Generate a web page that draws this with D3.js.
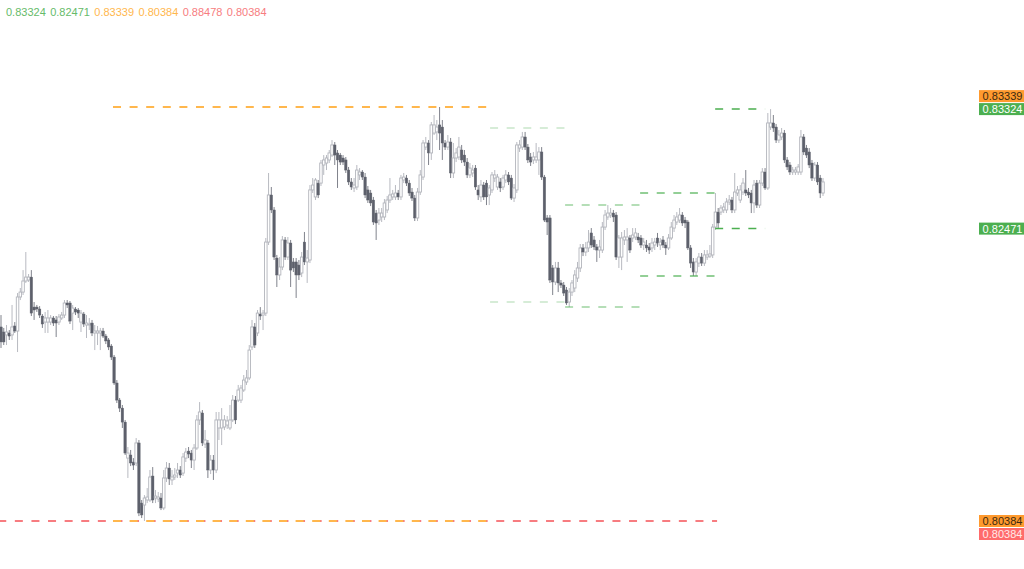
<!DOCTYPE html>
<html>
<head>
<meta charset="utf-8">
<script src="https://cdn.jsdelivr.net/npm/d3@7"></script>
<style>
html,body{margin:0;padding:0;background:#ffffff;overflow:hidden}
svg{display:block}
</style>
</head>
<body>
<svg id="chart" width="1024" height="569"></svg>
<script>
// ---- DATA ----
const opens = [
0.81769,0.81733,0.81712,0.81726,0.81712,0.81776,0.81740,0.81983,0.82018,0.82097,
0.82104,0.82125,0.81911,0.81911,0.81897,0.81847,0.81804,0.81804,0.81804,0.81833,
0.81819,0.81804,0.81833,0.81854,0.81940,0.81940,0.81868,0.81897,0.81890,0.81804,
0.81861,0.81783,0.81783,0.81797,0.81726,0.81726,0.81726,0.81740,0.81704,0.81676,
0.81633,0.81554,0.81369,0.81247,0.81190,0.81090,0.80833,0.80855,0.80805,0.80798,
0.80941,0.80512,0.80498,0.80534,0.80534,0.80705,0.80548,0.80541,
0.80548,0.80477,0.80691,0.80762,0.80677,0.80698,0.80726,0.80748,0.80726,0.80833,
0.80883,0.80869,0.80819,0.80905,0.81105,0.81155,0.80933,0.80941,0.80748,0.80819,
0.80748,0.81048,0.81048,0.81055,0.81069,
0.81048,0.81105,0.81247,0.81247,0.81247,0.81319,0.81376,0.81405,0.81626,0.81769,
0.81726,0.81861,0.81854,0.81868,0.82375,0.82711,0.82604,0.82261,0.82140,0.82197,
0.82390,0.82268,0.82368,0.82233,0.82233,0.82211,0.82154,0.82375,0.82233,0.82247,
0.82747,0.82697,0.82796,0.82796,0.82925,0.82939,0.82961,0.82996,0.83068,0.83011,
0.82996,0.82975,0.82961,0.82889,0.82804,0.82761,0.82768,0.82854,0.82875,0.82839,
0.82747,0.82725,0.82675,0.82582,0.82532,0.82554,0.82554,0.82604,0.82675,0.82697,
0.82697,0.82725,0.82697,0.82818,0.82832,0.82796,0.82732,0.82689,0.82547,0.82732,
0.82839,0.83053,0.83082,0.83011,0.83153,0.83161,0.83211,0.83196,0.83082,0.83053,
0.83089,0.82868,0.82975,0.82982,0.83032,0.82996,0.82946,0.82854,0.82868,0.82903,
0.82747,0.82697,0.82782,0.82796,0.82711,0.82747,0.82832,0.82768,0.82804,0.82768,
0.82818,0.82854,0.82832,0.82689,0.82747,0.83046,0.83053,0.83125,0.83053,0.82982,
0.82961,0.82961,0.82961,0.83018,0.82839,0.82547,0.82547,0.82190,0.82090,0.82190,
0.82083,0.82068,0.82033,0.81947,0.82018,0.82047,0.82118,0.82190,0.82333,0.82304,
0.82333,0.82440,0.82390,0.82340,0.82318,0.82318,0.82482,0.82554,0.82568,0.82582,
0.82568,0.82268,0.82268,0.82390,0.82390,0.82404,0.82404,0.82411,0.82411,0.82404,
0.82354,0.82354,0.82340,0.82333,0.82354,0.82404,0.82354,0.82390,0.82354,0.82333,
0.82404,0.82475,0.82518,0.82532,0.82568,0.82532,0.82518,0.82333,0.82233,0.82161,
0.82225,0.82268,0.82225,0.82268,0.82275,0.82283,0.82482,0.82589,0.82589,0.82604,
0.82604,0.82661,0.82675,0.82604,0.82725,0.82675,0.82732,0.82747,0.82732,0.82725,
0.82654,0.82796,0.82639,0.82796,0.82875,0.82761,0.83196,0.83225,0.83196,0.83103,
0.83125,0.83153,0.82961,0.82925,0.82875,0.82875,0.82875,0.82875,0.83125,0.83046,
0.83018,0.82939,0.82832,0.82925,0.82832,0.82725
];
const highs = [
0.81854,0.81762,0.81783,0.81747,0.81926,0.81804,0.82011,0.82047,0.82175,0.82304,
0.82147,0.82175,0.81947,0.81926,0.81918,0.81861,0.81876,0.81890,0.81854,0.81847,
0.81847,0.81861,0.81876,0.81961,0.81961,0.81954,0.81926,0.81911,0.81904,0.81890,
0.81876,0.81854,0.81833,0.81819,0.81783,0.81776,0.81762,0.81762,0.81719,0.81690,
0.81647,0.81569,0.81390,0.81262,0.81212,0.81105,0.80912,0.80891,0.80833,0.80976,
0.80962,0.80534,0.80569,0.80619,0.80748,0.80769,0.80605,0.80591,
0.80584,0.80748,0.80805,0.80798,0.80748,0.80762,0.80798,0.80776,0.80869,0.80905,
0.80912,0.80891,0.80933,0.81140,0.81233,0.81176,0.81033,0.80962,0.80855,0.80855,
0.81162,0.81162,0.81190,0.81140,0.81133,
0.81212,0.81283,0.81276,0.81355,0.81355,0.81426,0.81462,0.81640,0.81819,0.81797,
0.81890,0.81911,0.81890,0.82404,0.82868,0.82768,0.82625,0.82283,0.82268,0.82418,
0.82411,0.82411,0.82390,0.82261,0.82261,0.82247,0.82304,0.82447,0.82318,0.82782,
0.82832,0.82832,0.82818,0.82961,0.82996,0.82996,0.83032,0.83103,0.83089,0.83032,
0.83011,0.82996,0.82982,0.82911,0.82832,0.82832,0.82925,0.82903,0.82889,0.82868,
0.82775,0.82747,0.82697,0.82604,0.82618,0.82618,0.82682,0.82704,0.82832,0.82747,
0.82782,0.82747,0.82854,0.82868,0.82854,0.82818,0.82761,0.82711,0.82761,0.82889,
0.83103,0.83125,0.83103,0.83232,0.83282,0.83246,0.83339,0.83246,0.83103,0.83139,
0.83118,0.83082,0.83046,0.83125,0.83068,0.83032,0.82975,0.82939,0.82925,0.82925,
0.82782,0.82818,0.82804,0.82818,0.82782,0.82875,0.82889,0.82861,0.82832,0.82854,
0.82889,0.82875,0.82854,0.82789,0.83089,0.83103,0.83161,0.83161,0.83075,0.83011,
0.83018,0.83082,0.83053,0.83053,0.82854,0.82568,0.82568,0.82211,0.82233,0.82233,
0.82104,0.82090,0.82054,0.82047,0.82104,0.82175,0.82233,0.82361,0.82361,0.82375,
0.82461,0.82475,0.82418,0.82361,0.82390,0.82518,0.82604,0.82639,0.82618,0.82604,
0.82589,0.82425,0.82447,0.82461,0.82475,0.82425,0.82475,0.82475,0.82440,0.82425,
0.82404,0.82390,0.82368,0.82404,0.82404,0.82440,0.82404,0.82418,0.82375,0.82432,
0.82518,0.82568,0.82589,0.82618,0.82589,0.82554,0.82532,0.82354,0.82261,0.82261,
0.82297,0.82297,0.82318,0.82318,0.82354,0.82504,0.82725,0.82618,0.82639,0.82654,
0.82689,0.82711,0.82697,0.82868,0.82775,0.82782,0.82832,0.82889,0.82761,0.82747,
0.82818,0.82818,0.82818,0.82903,0.82903,0.83296,0.83324,0.83282,0.83218,0.83175,
0.83189,0.83175,0.82982,0.82946,0.82911,0.82911,0.82932,0.83175,0.83146,0.83068,
0.83046,0.82961,0.82946,0.82946,0.82854,0.82832
];
const lows = [
0.81619,0.81640,0.81640,0.81676,0.81676,0.81726,0.81590,0.81961,0.81997,0.82083,
0.82090,0.81847,0.81819,0.81876,0.81833,0.81762,0.81726,0.81726,0.81783,0.81776,
0.81697,0.81783,0.81819,0.81833,0.81904,0.81790,0.81747,0.81854,0.81833,0.81733,
0.81769,0.81690,0.81747,0.81704,0.81604,0.81640,0.81604,0.81690,0.81647,0.81604,
0.81533,0.81355,0.81226,0.81162,0.81048,0.80855,0.80691,0.80776,0.80748,0.80776,
0.80419,0.80405,0.80384,0.80512,0.80519,0.80512,0.80512,0.80519,
0.80462,0.80462,0.80662,0.80641,0.80641,0.80677,0.80691,0.80691,0.80705,0.80805,
0.80833,0.80762,0.80748,0.80891,0.81069,0.80919,0.80905,0.80691,0.80719,0.80677,
0.80726,0.80962,0.80926,0.81033,0.81041,
0.81033,0.81090,0.81076,0.81233,0.81226,0.81305,0.81355,0.81390,0.81604,0.81619,
0.81704,0.81819,0.81747,0.81847,0.82354,0.82582,0.82247,0.82054,0.82104,0.82175,
0.82247,0.82247,0.82054,0.82161,0.81976,0.82104,0.82125,0.82211,0.82083,0.82225,
0.82725,0.82675,0.82689,0.82775,0.82854,0.82889,0.82939,0.82982,0.82925,0.82761,
0.82925,0.82925,0.82868,0.82782,0.82747,0.82732,0.82747,0.82818,0.82818,0.82689,
0.82654,0.82632,0.82497,0.82390,0.82497,0.82518,0.82532,0.82582,0.82654,0.82675,
0.82675,0.82675,0.82675,0.82796,0.82775,0.82704,0.82668,0.82525,0.82525,0.82711,
0.82818,0.83032,0.82925,0.82961,0.83139,0.83103,0.83032,0.82961,0.83032,0.83032,
0.82832,0.82832,0.82946,0.82961,0.82939,0.82918,0.82832,0.82832,0.82839,0.82747,
0.82675,0.82661,0.82675,0.82639,0.82639,0.82725,0.82804,0.82747,0.82732,0.82747,
0.82796,0.82782,0.82675,0.82661,0.82725,0.83018,0.83032,0.83032,0.82939,0.82918,
0.82932,0.82939,0.82854,0.82818,0.82518,0.82425,0.82083,0.81997,0.82068,0.82018,
0.82047,0.81990,0.81926,0.81911,0.81990,0.82018,0.82090,0.82161,0.82275,0.82275,
0.82304,0.82333,0.82318,0.82233,0.82261,0.82297,0.82461,0.82533,0.82547,0.82518,
0.82247,0.82190,0.82175,0.82354,0.82233,0.82297,0.82375,0.82390,0.82368,0.82333,
0.82318,0.82304,0.82290,0.82304,0.82318,0.82340,0.82318,0.82333,0.82283,0.82318,
0.82390,0.82447,0.82497,0.82511,0.82490,0.82475,0.82318,0.82190,0.82133,0.82133,
0.82197,0.82204,0.82204,0.82247,0.82261,0.82261,0.82461,0.82475,0.82568,0.82582,
0.82582,0.82639,0.82582,0.82582,0.82704,0.82654,0.82711,0.82704,0.82689,0.82582,
0.82582,0.82618,0.82618,0.82775,0.82747,0.82747,0.83175,0.83161,0.83082,0.83082,
0.83103,0.82939,0.82889,0.82854,0.82854,0.82854,0.82854,0.82854,0.82996,0.82975,
0.82903,0.82811,0.82811,0.82782,0.82689,0.82704
];
const closes = [
0.81662,0.81662,0.81733,0.81704,0.81769,0.81740,0.81983,0.82018,0.82097,0.82125,
0.82125,0.81868,0.81890,0.81897,0.81854,0.81790,0.81833,0.81833,0.81833,0.81797,
0.81797,0.81840,0.81854,0.81940,0.81926,0.81811,0.81904,0.81876,0.81868,0.81868,
0.81790,0.81797,0.81790,0.81726,0.81740,0.81740,0.81740,0.81704,0.81669,0.81626,
0.81554,0.81369,0.81247,0.81190,0.81090,0.80869,0.80869,0.80798,0.80783,0.80941,
0.80441,0.80427,0.80548,0.80555,0.80698,0.80534,0.80562,0.80555,
0.80477,0.80691,0.80762,0.80684,0.80698,0.80712,0.80748,0.80712,0.80841,0.80876,
0.80862,0.80819,0.80905,0.81105,0.81162,0.80941,0.80962,0.80748,0.80819,0.80748,
0.81105,0.81105,0.81105,0.81105,0.81098,
0.81105,0.81247,0.81105,0.81319,0.81333,0.81390,0.81405,0.81604,0.81769,0.81640,
0.81868,0.81847,0.81868,0.82375,0.82711,0.82604,0.82268,0.82140,0.82197,0.82390,
0.82268,0.82368,0.82175,0.82190,0.82140,0.82140,0.82268,0.82233,0.82261,0.82747,
0.82782,0.82818,0.82711,0.82939,0.82961,0.82975,0.83011,0.83068,0.82996,0.82961,
0.82946,0.82946,0.82889,0.82804,0.82768,0.82782,0.82889,0.82875,0.82839,0.82711,
0.82675,0.82654,0.82518,0.82511,0.82582,0.82582,0.82654,0.82675,0.82711,0.82718,
0.82725,0.82697,0.82832,0.82839,0.82796,0.82725,0.82689,0.82547,0.82732,0.82854,
0.83082,0.83082,0.83011,0.83211,0.83211,0.83196,0.83153,0.83082,0.83053,0.83089,
0.82868,0.82975,0.83011,0.83053,0.82961,0.82946,0.82854,0.82903,0.82889,0.82768,
0.82711,0.82782,0.82697,0.82697,0.82761,0.82854,0.82854,0.82839,0.82761,0.82832,
0.82854,0.82804,0.82689,0.82761,0.83068,0.83068,0.83125,0.83053,0.82961,0.82946,
0.82982,0.82982,0.83018,0.82839,0.82532,0.82518,0.82104,0.82090,0.82190,0.82083,
0.82068,0.82011,0.81940,0.82018,0.82083,0.82140,0.82190,0.82333,0.82304,0.82333,
0.82375,0.82354,0.82340,0.82318,0.82340,0.82482,0.82568,0.82582,0.82582,0.82554,
0.82268,0.82404,0.82404,0.82411,0.82411,0.82318,0.82425,0.82440,0.82390,0.82354,
0.82375,0.82333,0.82318,0.82368,0.82375,0.82368,0.82375,0.82354,0.82333,0.82404,
0.82482,0.82532,0.82554,0.82568,0.82511,0.82511,0.82333,0.82225,0.82161,0.82233,
0.82268,0.82225,0.82283,0.82283,0.82290,0.82482,0.82589,0.82511,0.82618,0.82625,
0.82661,0.82675,0.82604,0.82732,0.82747,0.82747,0.82796,0.82725,0.82711,0.82654,
0.82782,0.82639,0.82796,0.82875,0.82761,0.83225,0.83225,0.83189,0.83103,0.83139,
0.83153,0.82961,0.82911,0.82875,0.82889,0.82889,0.82911,0.83125,0.83018,0.82996,
0.82925,0.82832,0.82925,0.82804,0.82725,0.82804
];

// level lines shown in the legend (top, bottom)
const greenLevels  = [0.83324, 0.82471];
const orangeLevels = [0.83339, 0.80384];
const redLevels    = [0.88478, 0.80384];

// earlier (fading) green ranges, by bar position
const rangeTops    = [0.83189, 0.82639, 0.82725, 0.83324];
const rangeBottoms = [0.81947, 0.81911, 0.82133, 0.82471];
const rangeStarts  = [177.3, 204.5, 231.7, 258.9];
const rangeEnds    = [204.5, 231.7, 258.9, 277.0];
const orangeSpan   = [40.6, 177.3];
const redSpan      = [-1, 259.6];

// ---- DRAWING ----
const svg = d3.select("#chart");
const n = closes.length;
const x = d3.scaleLinear().domain([0, n - 1]).range([1, 823]);
const y = d3.scaleLinear().domain([0.80384, 0.83339]).range([521, 107]);

const bars = d3.range(n).map(i => ({
  i, o: opens[i], h: highs[i], l: lows[i], c: closes[i], up: closes[i] >= opens[i]
}));

const gC = svg.append("g");
gC.selectAll("line.wick").data(bars).join("line")
  .attr("class", "wick")
  .attr("x1", d => x(d.i)).attr("x2", d => x(d.i))
  .attr("y1", d => y(d.h)).attr("y2", d => y(d.l))
  .attr("stroke", d => d.up ? "#b8bac1" : "#80838c")
  .attr("stroke-width", 1);

gC.selectAll("rect.body").data(bars).join("rect")
  .attr("class", "body")
  .attr("x", d => x(d.i) - 1.25)
  .attr("width", 2.5)
  .attr("y", d => y(Math.max(d.o, d.c)))
  .attr("height", d => Math.max(1, Math.abs(y(d.o) - y(d.c))))
  .attr("fill", d => d.up ? "#ffffff" : "#5d606b")
  .attr("stroke", d => d.up ? "#b3b5bc" : "#5d606b")
  .attr("stroke-width", d => d.up ? 0.9 : 0.4);

// level lines
const gL = svg.append("g").attr("fill", "none");
function hline(v, a, b, color, width, opacity) {
  gL.append("line")
    .attr("x1", x(a)).attr("x2", x(b))
    .attr("y1", y(v)).attr("y2", y(v))
    .attr("stroke", color).attr("stroke-width", width)
    .attr("stroke-opacity", opacity)
    .attr("stroke-dasharray", "8,8.6");
}
const rangeAlpha = [0.3, 0.55, 0.8, 1];
rangeTops.forEach((t, k) => {
  hline(t, rangeStarts[k], rangeEnds[k], "#4caf50", 1.5, rangeAlpha[k]);
  hline(rangeBottoms[k], rangeStarts[k], rangeEnds[k], "#4caf50", 1.5, rangeAlpha[k]);
});
redLevels.forEach(v => hline(v, redSpan[0], redSpan[1], "#f77c80", 2, 1));
orangeLevels.forEach(v => hline(v, orangeSpan[0], orangeSpan[1], "#ffb74d", 2, 1));

// legend (top-left)
const legendItems = [
  {v: greenLevels[0], col: "#66bb6a"}, {v: greenLevels[1], col: "#66bb6a"},
  {v: orangeLevels[0], col: "#ffb74d"}, {v: orangeLevels[1], col: "#ffb74d"},
  {v: redLevels[0], col: "#f77c80"}, {v: redLevels[1], col: "#f77c80"}
];
const fmt = d3.format(".5f");
let lx = 6;
legendItems.forEach(it => {
  const t = svg.append("text")
    .attr("x", lx).attr("y", 16)
    .attr("font-family", "'Liberation Sans', Arial, sans-serif")
    .attr("font-size", 11)
    .attr("fill", it.col)
    .text(fmt(it.v));
  lx += t.node().getComputedTextLength() + 4.4;
});

// right price labels with simple collision stacking
const labelDefs = [
  {v: greenLevels[0], bg: "#4caf50", fg: "#ffffff"},
  {v: greenLevels[1], bg: "#4caf50", fg: "#ffffff"},
  {v: orangeLevels[0], bg: "#ff9a2e", fg: "#3b2a12"},
  {v: orangeLevels[1], bg: "#ff9a2e", fg: "#3b2a12"},
  {v: redLevels[0], bg: "#ff6b6b", fg: "#ffffff"},
  {v: redLevels[1], bg: "#ff6b6b", fg: "#ffe9e9"}
];
const LH = 13;
const placed = [];
labelDefs.forEach(L => {
  let ly = y(L.v);
  let moved = true;
  while (moved) {
    moved = false;
    for (const p of placed) {
      if (Math.abs(ly - p.y) < LH - 0.01) {
        ly = L.v > p.v ? p.y - LH : p.y + LH;
        moved = true;
      }
    }
  }
  placed.push({v: L.v, y: ly});
  if (ly < -LH || ly > 569 + LH) return;
  const g = svg.append("g");
  g.append("rect").attr("x", 979).attr("y", ly - LH / 2 + 0.5)
    .attr("width", 45).attr("height", LH - 1).attr("fill", L.bg);
  g.append("text").attr("x", 1002.5).attr("y", ly + 4)
    .attr("text-anchor", "middle")
    .attr("font-family", "'Liberation Sans', Arial, sans-serif")
    .attr("font-size", 11).attr("fill", L.fg)
    .text(fmt(L.v));
});
</script>
</body>
</html>
